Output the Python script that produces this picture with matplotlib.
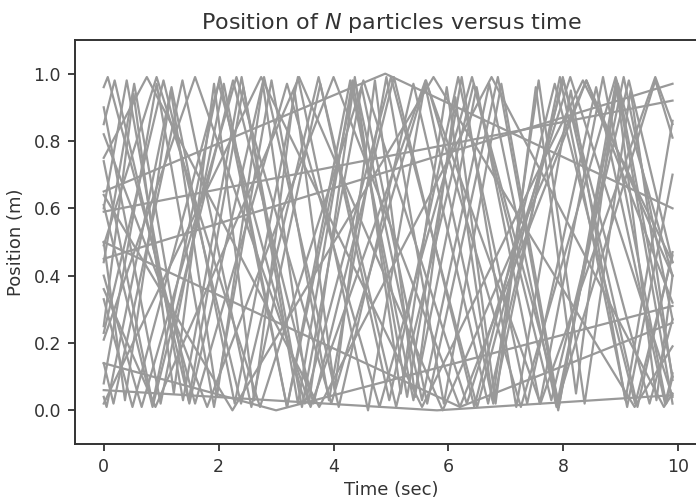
import numpy as np
import matplotlib.pyplot as plt

# kink points of every particle track: (time, position)
# slow particles
s1_t = [0, 5.8, 9.9];  s1_y = [0.06, 0.0, 0.045]
s2_t = [0, 3.0, 9.9];  s2_y = [0.14, 0.0, 0.31]
s3_t = [0, 4.9, 9.9];  s3_y = [0.65, 1.0, 0.60]
s4_t = [0, 9.9];       s4_y = [0.45, 0.97]
s5_t = [0, 9.9];       s5_y = [0.59, 0.92]
s6_t = [0, 6.2, 9.9];  s6_y = [0.50, 0.01, 0.26]

# fast particles
f1_t = [0, 0.07, 1.59, 3.19, 4.8, 6.41, 7.91, 9.6, 9.9]
f1_y = [0.96, 0.99, 0.02, 0.97, 0.01, 0.99, 0.03, 0.98, 0.81]
f2_t = [0, 0.05, 1.18, 2.28, 3.38, 4.6, 5.59, 6.78, 7.94, 9.11, 9.9]
f2_y = [0.04, 0.01, 0.96, 0.02, 0.99, 0.0, 0.97, 0.02, 0.99, 0.01, 0.70]
f3_t = [0, 0.4, 1.38, 2.4, 3.45, 4.49, 5.63, 6.86, 7.91, 8.95, 9.9]
f3_y = [0.60, 0.98, 0.03, 0.99, 0.01, 0.96, 0.02, 0.99, 0.0, 0.97, 0.10]
f4_t = [0, 0.85, 2.02, 3.19, 4.37, 5.54, 6.71, 7.88, 9.05, 9.9]
f4_y = [0.74, 0.02, 0.99, 0.01, 0.98, 0.03, 0.97, 0.01, 0.99, 0.27]
f5_t = [0, 0.5, 2.0, 3.5, 5.0, 6.5, 8.0, 9.5, 9.9]
f5_y = [0.33, 0.01, 0.97, 0.02, 0.99, 0.01, 0.98, 0.02, 0.27]
f6_t = [0, 1.59, 3.6, 5.6, 7.6, 9.6, 9.9]
f6_y = [0.21, 0.99, 0.01, 0.98, 0.02, 0.99, 0.85]
f7_t = [0, 0.37, 1.17, 1.97, 2.77, 3.57, 4.37, 5.17, 5.97, 6.77, 7.57, 8.37, 9.17, 9.9]
f7_y = [0.50, 0.03, 0.95, 0.04, 0.97, 0.02, 0.99, 0.05, 0.96, 0.03, 0.98, 0.02, 0.95, 0.09]
f8_t = [0, 0.19, 1.49, 2.79, 4.09, 5.39, 6.69, 7.99, 9.29, 9.9]
f8_y = [0.85, 0.98, 0.02, 0.99, 0.01, 0.97, 0.02, 0.99, 0.01, 0.47]
f9_t = [0, 0.92, 1.92, 2.92, 3.92, 4.92, 5.92, 6.92, 7.92, 8.92, 9.9]
f9_y = [0.08, 0.97, 0.01, 0.98, 0.03, 0.99, 0.02, 0.97, 0.01, 0.98, 0.02]
f10_t = [0, 0.9, 3.4, 5.9, 8.4, 9.9]
f10_y = [0.36, 0.01, 0.99, 0.0, 0.98, 0.40]
f11_t = [0, 0.75, 3.75, 6.75, 9.75, 9.9]
f11_y = [0.75, 0.99, 0.01, 0.99, 0.01, 0.05]
f12_t = [0, 0.85, 2.25, 3.65, 5.05, 6.45, 7.85, 9.25, 9.9]
f12_y = [0.61, 0.01, 0.98, 0.02, 0.99, 0.01, 0.97, 0.02, 0.46]
f13_t = [0, 0.52, 1.22, 1.92, 2.62, 3.32, 4.02, 4.72, 5.42, 6.12, 6.82, 7.52, 8.22, 8.92, 9.62, 9.9]
f13_y = [0.25, 0.94, 0.05, 0.97, 0.03, 0.95, 0.06, 0.98, 0.04, 0.93, 0.02, 0.96, 0.05, 0.97, 0.03, 0.40]
f14_t = [0, 0.92, 2.72, 4.52, 6.32, 8.12, 9.9]
f14_y = [0.49, 0.99, 0.01, 0.98, 0.02, 0.99, 0.04]
f15_t = [0, 0.17, 1.37, 2.57, 3.77, 4.97, 6.17, 7.37, 8.57, 9.77, 9.9]
f15_y = [0.14, 0.02, 0.98, 0.01, 0.97, 0.03, 0.99, 0.02, 0.96, 0.02, 0.11]
f16_t = [0, 1.8, 4.0, 6.2, 8.4, 9.9]
f16_y = [0.82, 0.01, 0.99, 0.01, 0.98, 0.32]
f17_t = [0, 0.53, 1.48, 2.43, 3.38, 4.33, 5.28, 6.23, 7.18, 8.13, 9.08, 9.9]
f17_y = [0.44, 0.97, 0.03, 0.96, 0.02, 0.98, 0.04, 0.99, 0.01, 0.95, 0.03, 0.86]
f18_t = [0, 0.66, 2.31, 3.96, 5.61, 7.26, 8.91, 9.9]
f18_y = [0.40, 0.01, 0.99, 0.02, 0.98, 0.01, 0.99, 0.40]
f19_t = [0, 2.24, 5.74, 9.24, 9.9]
f19_y = [0.64, 0.0, 0.99, 0.01, 0.19]
f20_t = [0, 0.99, 2.09, 3.19, 4.29, 5.39, 6.49, 7.59, 8.69, 9.79, 9.9]
f20_y = [0.90, 0.02, 0.97, 0.01, 0.98, 0.03, 0.96, 0.02, 0.99, 0.02, 0.10]
f21_t = [0, 2.74, 5.54, 8.34, 9.9]
f21_y = [0.02, 0.99, 0.01, 0.98, 0.44]
f22_t = [0, 1.04, 2.39, 3.74, 5.09, 6.44, 7.79, 9.14, 9.9]
f22_y = [0.23, 0.98, 0.02, 0.99, 0.01, 0.97, 0.03, 0.98, 0.44]

tracks = [
    (s1_t, s1_y), (s2_t, s2_y), (s3_t, s3_y), (s4_t, s4_y), (s5_t, s5_y), (s6_t, s6_y),
    (f1_t, f1_y), (f2_t, f2_y), (f3_t, f3_y), (f4_t, f4_y), (f5_t, f5_y), (f6_t, f6_y),
    (f7_t, f7_y), (f8_t, f8_y), (f9_t, f9_y), (f10_t, f10_y), (f11_t, f11_y),
    (f12_t, f12_y), (f13_t, f13_y), (f14_t, f14_y), (f15_t, f15_y), (f16_t, f16_y),
    (f17_t, f17_y), (f18_t, f18_y), (f19_t, f19_y), (f20_t, f20_y), (f21_t, f21_y),
    (f22_t, f22_y),
]

dark = "#333333"
plt.rcParams["font.family"] = "DejaVu Sans"
plt.rcParams["text.color"] = dark
plt.rcParams["axes.labelcolor"] = dark
plt.rcParams["xtick.color"] = dark
plt.rcParams["ytick.color"] = dark

fig = plt.figure(figsize=(6.96, 5.03), dpi=100)
ax = fig.add_axes([75 / 696, 59 / 503, 632 / 696, 404 / 503])

for t, y in tracks:
    ax.plot(t, y, color="#999999", lw=1.6)

ax.set_xlim(-0.5, 10.5)
ax.set_ylim(-0.1, 1.1)
ax.set_xticks([0, 2, 4, 6, 8, 10])
ax.set_yticks([0.0, 0.2, 0.4, 0.6, 0.8, 1.0])
for sp in ax.spines.values():
    sp.set_color(dark)
    sp.set_linewidth(1.4)
ax.tick_params(labelsize=12.5, width=1.3, length=5, pad=5)

ax.set_xlabel("Time (sec)", fontsize=13, labelpad=4)
ax.set_ylabel("Position (m)", fontsize=13, labelpad=6)
ax.set_title("Position of $N$ particles versus time", fontsize=16, pad=8)

fig.savefig("out.png", dpi=100)
